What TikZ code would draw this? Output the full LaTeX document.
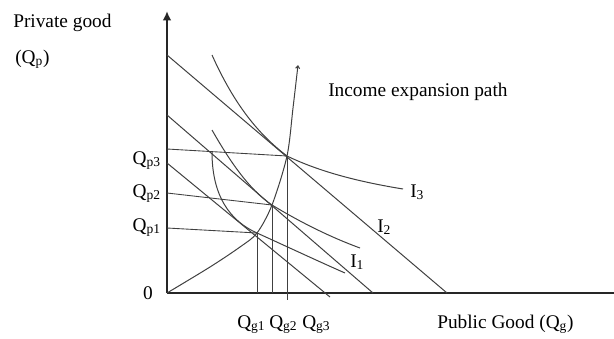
\documentclass[tikz,border=0pt]{standalone}
\usepackage{fontspec}
\setmainfont{Liberation Serif}
\usepackage{tikz}
\usetikzlibrary{arrows.meta,calc}

\begin{document}
\begin{tikzpicture}[
    x=0.75pt, y=-0.75pt,
    every node/.style={font=\fontsize{14.5}{17}\selectfont, inner sep=0pt},
    axis/.style={black!85, line width=1.4pt},
    budget/.style={black!75, line width=0.75pt},
    curve/.style={black!75, line width=0.75pt},
    guide/.style={black!75, line width=0.65pt},
]
\useasboundingbox (0,0) rectangle (614,339);

% =====================================================================
% Axes
% =====================================================================
\coordinate (O)    at (167,293);
\coordinate (ytop) at (167,11);
\coordinate (xend) at (614,293);
\draw[axis] (O) -- (xend);
\draw[axis, -{Latex[length=7pt,width=6.5pt]}] (O) -- (ytop);

% Equilibrium points (tangencies)
\coordinate (E1) at (257,233);
\coordinate (E2) at (272,205);
\coordinate (E3) at (287,156);

% =====================================================================
% Budget lines
% =====================================================================
\draw[budget] (167,55)  -- (447,293);
\draw[budget] (167,115) -- (373,293);
\draw[budget] (167,163) -- (330,297);

% =====================================================================
% Indifference curves
% =====================================================================
\draw[curve] (212,55) .. controls (234,104) and (258,134) .. (E3)
             .. controls (320,172) and (360,182) .. (403,189);
\draw[curve] (212,130) .. controls (228,158) and (248,189) .. (E2)
             .. controls (300,222) and (330,237) .. (360,248);
\draw[curve] (212,152) .. controls (212,196) and (230,221) .. (E1)
             .. controls (290,248) and (320,262) .. (345,273);

% Income expansion path
\draw[curve, -{Straight Barb[length=2pt,width=3pt]}] plot[smooth] coordinates
    {(167,293) (210,267) (240,247) (E1) (E2) (E3) (293,108) (298,65)};

% =====================================================================
% Guide lines to the axes
% =====================================================================
\coordinate (qp1) at (167,228);
\coordinate (qp2) at (167,193);
\coordinate (qp3) at (167,149);
\draw[guide] (qp1) -- (E1);
\draw[guide] (qp2) -- (E2);
\draw[guide] (qp3) -- (E3);
\draw[guide] (E1) -- (E1 |- O);
\draw[guide] (E2) -- (E2 |- O);
\draw[guide] (E3) -- ($(E3 |- O) + (0,7)$);

% =====================================================================
% Labels
% =====================================================================
\node[anchor=base west] (ylab)  at (13,27) {Private good};
\node[anchor=base west] (ysym)  at (15,63) {(Q\textsubscript{p})};
\node[anchor=base east] (lqp3)  at (161,164) {Q\textsubscript{p3}};
\node[anchor=base east] (lqp2)  at (161,197) {Q\textsubscript{p2}};
\node[anchor=base east] (lqp1)  at (161,231) {Q\textsubscript{p1}};
\node[anchor=base east] (zero)  at (153,299) {0};
\node[anchor=base west] (lqg1)  at (237,328) {Q\textsubscript{g1}};
\node[anchor=base west] (lqg2)  at (269,328) {Q\textsubscript{g2}};
\node[anchor=base west] (lqg3)  at (302,328) {Q\textsubscript{g3}};
\node[anchor=base west] (xlab)  at (437,328) {Public Good (Q\textsubscript{g})};
\node[anchor=base west] (iep)   at (328,96) {Income expansion path};
\node[anchor=base west] (lI3)   at (410,197) {I\textsubscript{3}};
\node[anchor=base west] (lI2)   at (377,232) {I\textsubscript{2}};
\node[anchor=base west] (lI1)   at (350,267) {I\textsubscript{1}};

\end{tikzpicture}
\end{document}
